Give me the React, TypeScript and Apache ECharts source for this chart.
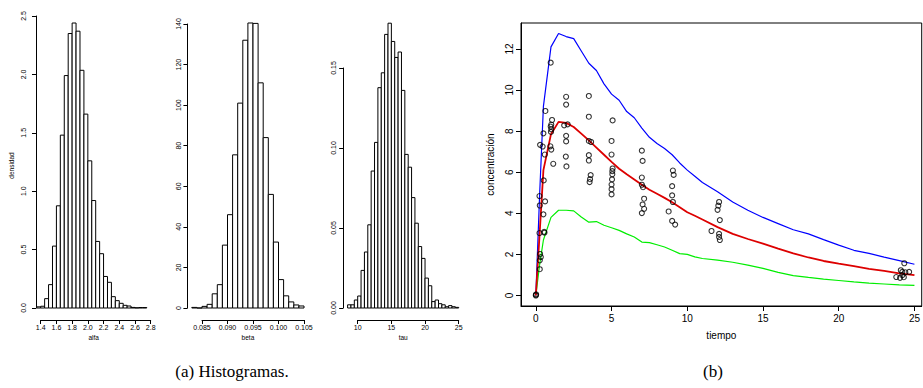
import React, { useEffect, useRef } from "react";
import * as echarts from "echarts";

// ---------- Histogram data (density per bin) ----------
const alfaStart = 1.35;
const alfaBinWidth = 0.05;
const alfaDensity = [0.01, 0.015, 0.08, 0.2, 0.53, 0.875, 1.48, 1.99, 2.35, 2.44, 2.37, 2.035, 1.66, 1.26, 0.92, 0.57, 0.465, 0.27, 0.22, 0.097, 0.063, 0.04, 0.023, 0.017, 0.005, 0.002, 0.004, 0.004];

const betaStart = 0.083;
const betaBinWidth = 0.001;
const betaDensity = [0.3, 0, 0.8, 1.8, 7, 11.5, 31, 46, 75.5, 101, 132, 140.5, 140.3, 111, 84, 56, 32.5, 14, 6, 3, 1.5, 1];

const tauStart = 8.5;
const tauBinWidth = 0.5;
const tauDensity = [0.002, 0.002, 0.005, 0.0075, 0.0235, 0.035, 0.052, 0.0856, 0.1035, 0.1377, 0.147, 0.171, 0.178, 0.1666, 0.1566, 0.16, 0.136, 0.096, 0.088, 0.069, 0.053, 0.0384, 0.031, 0.0187, 0.0139, 0.004, 0.005, 0.0027, 0.002, 0.0008, 0.0015, 0.0008, 0.0004];

// ---------- Concentration curves ----------
const bandTime = [0, 0.25, 0.5, 1, 1.5, 2, 2.5, 3, 3.5, 4, 4.5, 5, 5.5, 6, 6.5, 7, 7.5, 8, 8.5, 9, 9.5, 10, 10.5, 11, 12, 13, 14, 15, 16, 17, 18, 19, 20, 21, 22, 23, 24, 25];
const upperConc = [0, 4.9, 9.2, 12.1, 12.75, 12.6, 12.5, 11.9, 11.3, 10.95, 10.3, 9.8, 9.5, 8.95, 8.65, 8.15, 7.7, 7.4, 7.15, 6.85, 6.45, 6.1, 5.8, 5.5, 5.05, 4.55, 4.15, 3.8, 3.5, 3.2, 3.0, 2.72, 2.45, 2.2, 2.05, 1.87, 1.7, 1.52];
const medianConc = [0, 3.0, 6.1, 7.85, 8.45, 8.4, 8.2, 7.88, 7.55, 7.2, 6.85, 6.5, 6.17, 5.9, 5.65, 5.39, 5.15, 4.95, 4.75, 4.54, 4.3, 4.05, 3.88, 3.7, 3.33, 3.0, 2.75, 2.52, 2.28, 2.05, 1.85, 1.68, 1.55, 1.43, 1.3, 1.2, 1.08, 0.99];
const lowerConc = [0, 1.5, 2.7, 3.8, 4.15, 4.15, 4.12, 3.82, 3.57, 3.6, 3.42, 3.3, 3.17, 3.0, 2.85, 2.6, 2.57, 2.47, 2.36, 2.2, 2.04, 2.0, 1.88, 1.8, 1.72, 1.62, 1.48, 1.32, 1.13, 0.97, 0.88, 0.8, 0.73, 0.66, 0.6, 0.56, 0.52, 0.49];

// ---------- Observations ----------
const obsTime = [
  0, 0, 0.02,
  0.26, 0.26, 0.33, 0.28, 0.24, 0.26, 0.24, 0.28,
  0.57, 0.55, 0.5, 0.61, 0.52, 0.59, 0.45, 0.5, 0.63,
  0.98, 1.07, 1.02, 0.98, 1.02, 1.0, 0.96, 1.02, 1.15,
  2.0, 2.0, 1.87, 2.1, 2.0, 2.0, 1.98, 2.02,
  3.5, 3.5, 3.5, 3.65, 3.5, 3.5, 3.62, 3.58, 3.55,
  5.07, 5.0, 5.0, 5.07, 5.05, 5.05, 5.03, 5.0, 5.0, 5.0,
  7.0, 7.05, 7.0, 7.0, 7.08, 7.15, 7.05, 7.15, 7.0,
  9.05, 9.1, 9.0, 9.0, 9.05, 8.77, 9.0, 9.2,
  12.1, 12.05, 12.0, 12.15, 11.6, 12.1, 12.1, 12.15,
  24.33, 24.1, 24.2, 24.4, 24.65, 23.8, 24.05, 24.3, 24.2,
];
const obsConc = [
  0, 0.03, 0.06,
  1.28, 1.71, 1.87, 2.02, 3.04, 4.38, 4.84, 7.33,
  3.06, 3.1, 3.95, 4.58, 5.6, 6.86, 7.25, 7.89, 8.98,
  11.33, 8.54, 8.32, 8.22, 8.09, 7.96, 7.26, 7.1, 6.41,
  9.67, 9.29, 8.28, 8.33, 7.77, 7.5, 6.76, 6.28,
  9.71, 8.7, 7.52, 7.47, 6.83, 6.57, 5.86, 5.66, 5.52,
  8.52, 7.52, 6.86, 6.18, 6.05, 5.9, 5.65, 5.4, 5.17, 4.92,
  7.05, 6.55, 5.74, 5.39, 5.27, 4.71, 4.43, 4.22, 4.01,
  6.08, 5.87, 5.32, 4.87, 4.55, 4.09, 3.63, 3.45,
  4.55, 4.37, 4.17, 3.67, 3.14, 3.0, 2.85, 2.7,
  1.57, 1.23, 1.15, 1.13, 1.15, 0.9, 0.86, 0.89, 0.99,
];

const xTicksB = [0, 5, 10, 15, 20, 25];
const yTicksB = [0, 2, 4, 6, 8, 10, 12];

const FONT = "Liberation Sans, Arial, Helvetica, sans-serif";
const SERIF = "'Liberation Serif', 'DejaVu Serif', serif";

type HistSpec = {
  start: number;
  bw: number;
  dens: number[];
  xFirst: number;
  xLast: number;
  xInterval: number;
  xFirstPx: number;
  xLastPx: number;
  yTop: number;
  yInterval: number;
  yTopPx: number;
  y0Px: number;
  xMin: number;
  xMax: number;
  yMin: number;
  yMax: number;
  xDec: number;
  yDec: number;
  yLabelMargin: number;
  xName: string;
  yName: string;
};

const hists: HistSpec[] = [
  {
    start: alfaStart, bw: alfaBinWidth, dens: alfaDensity,
    xFirst: 1.4, xLast: 2.8, xInterval: 0.2, xFirstPx: 40.7, xLastPx: 150.7,
    yTop: 2.5, yInterval: 0.5, yTopPx: 16, y0Px: 308,
    xMin: 1.34, xMax: 2.81, yMin: -0.0976, yMax: 2.5376,
    xDec: 1, yDec: 1, yLabelMargin: 9, xName: "alfa", yName: "densidad",
  },
  {
    start: betaStart, bw: betaBinWidth, dens: betaDensity,
    xFirst: 0.085, xLast: 0.105, xInterval: 0.005, xFirstPx: 202, xLastPx: 304,
    yTop: 140, yInterval: 20, yTopPx: 24, y0Px: 308,
    xMin: 0.08214, xMax: 0.10588, yMin: -5.62, yMax: 146.1,
    xDec: 3, yDec: 0, yLabelMargin: 5, xName: "beta", yName: "",
  },
  {
    start: tauStart, bw: tauBinWidth, dens: tauDensity,
    xFirst: 10, xLast: 25, xInterval: 5, xFirstPx: 357.7, xLastPx: 458.7,
    yTop: 0.15, yInterval: 0.05, yTopPx: 68, y0Px: 308,
    xMin: 7.84, xMax: 25.66, yMin: -0.00712, yMax: 0.185,
    xDec: 0, yDec: 2, yLabelMargin: 6, xName: "tau", yName: "",
  },
];

function buildOption() {
  const grid: any[] = [];
  const xAxis: any[] = [];
  const yAxis: any[] = [];
  const series: any[] = [];

  const hidden = (extra: any) => ({
    type: "value",
    show: false,
    ...extra,
  });

  hists.forEach((h) => {
    const sx = (h.xLastPx - h.xFirstPx) / (h.xLast - h.xFirst);
    const sy = (h.y0Px - h.yTopPx) / h.yTop;
    // data grid
    const dLeft = h.xFirstPx + (h.xMin - h.xFirst) * sx;
    const dWidth = (h.xMax - h.xMin) * sx;
    const dTop = h.y0Px - h.yMax * sy;
    const dHeight = (h.yMax - h.yMin) * sy;
    const gData = grid.length;
    grid.push({ left: dLeft, top: dTop, width: dWidth, height: dHeight, containLabel: false });
    xAxis.push({
      type: "value", gridIndex: gData, min: h.xMin, max: h.xMax,
      axisLine: { show: false }, axisTick: { show: false }, axisLabel: { show: false }, splitLine: { show: false },
      name: h.xName, nameLocation: "middle", nameGap: 15,
      nameTextStyle: { fontSize: 6.5, color: "#000", fontFamily: FONT },
    });
    yAxis.push({
      type: "value", gridIndex: gData, min: h.yMin, max: h.yMax,
      axisLine: { show: false }, axisTick: { show: false }, axisLabel: { show: false }, splitLine: { show: false },
      name: h.yName, nameLocation: "middle", nameGap: 21, nameRotate: 90,
      nameTextStyle: { fontSize: 6.5, color: "#000", fontFamily: FONT },
    });
    const data = h.dens.map((d, i) => [h.start + i * h.bw, h.start + (i + 1) * h.bw, d]);
    series.push({
      type: "custom",
      xAxisIndex: xAxis.length - 1,
      yAxisIndex: yAxis.length - 1,
      coordinateSystem: "cartesian2d",
      data,
      encode: { x: [0, 1], y: 2 },
      renderItem: (params: any, api: any) => {
        const a = api.coord([api.value(0), api.value(2)]);
        const b = api.coord([api.value(1), 0]);
        return {
          type: "rect",
          shape: { x: a[0], y: a[1], width: b[0] - a[0], height: b[1] - a[1] },
          style: { fill: "#fff", stroke: "#000", lineWidth: 1 },
        };
      },
    });

    // y axis grid
    const gY = grid.length;
    grid.push({ left: dLeft, top: h.yTopPx, width: 10, height: h.y0Px - h.yTopPx });
    xAxis.push(hidden({ gridIndex: gY, min: 0, max: 1 }));
    yAxis.push({
      type: "value", gridIndex: gY, min: 0, max: h.yTop, interval: h.yInterval,
      axisLine: { show: true, lineStyle: { color: "#000", width: 1 } },
      axisTick: { show: true, length: 4, lineStyle: { color: "#000" } },
      splitLine: { show: false },
      axisLabel: {
        rotate: 90, fontSize: 7, color: "#000", fontFamily: FONT, margin: h.yLabelMargin,
        formatter: (v: number) => v.toFixed(h.yDec),
      },
    });

    // x axis grid
    const gX = grid.length;
    grid.push({ left: h.xFirstPx, top: 300, width: h.xLastPx - h.xFirstPx, height: 20 });
    yAxis.push(hidden({ gridIndex: gX, min: 0, max: 1 }));
    xAxis.push({
      type: "value", gridIndex: gX, min: h.xFirst, max: h.xLast, interval: h.xInterval,
      axisLine: { show: true, lineStyle: { color: "#000", width: 1 } },
      axisTick: { show: true, length: 4, lineStyle: { color: "#000" } },
      splitLine: { show: false },
      axisLabel: {
        fontSize: 7, color: "#000", fontFamily: FONT, margin: 4,
        formatter: (v: number) => v.toFixed(h.xDec),
        showMinLabel: true, showMaxLabel: true,
      },
    });
  });

  // Panel (b)
  const gB = grid.length;
  grid.push({ left: 521, top: 23, width: 405.5, height: 283, show: true, borderColor: "#000", borderWidth: 1, backgroundColor: "transparent" });
  const xB = xAxis.length;
  xAxis.push({
    type: "value", gridIndex: gB, min: -0.98, max: 25.48,
    axisLine: { show: true, onZero: false, lineStyle: { color: "#000", width: 1 } },
    axisTick: { show: true, length: 5, customValues: xTicksB, lineStyle: { color: "#000" } },
    axisLabel: { customValues: xTicksB, fontSize: 10, color: "#000", fontFamily: FONT, margin: 7 },
    splitLine: { show: false },
    name: "tiempo", nameLocation: "middle", nameGap: 24,
    nameTextStyle: { fontSize: 10, color: "#000", fontFamily: FONT },
  });
  const yB = yAxis.length;
  yAxis.push({
    type: "value", gridIndex: gB, min: -0.51, max: 13.26,
    axisLine: { show: true, onZero: false, lineStyle: { color: "#000", width: 1 } },
    axisTick: { show: true, length: 5, customValues: yTicksB, lineStyle: { color: "#000" } },
    axisLabel: { customValues: yTicksB, rotate: 90, fontSize: 10, color: "#000", fontFamily: FONT, margin: 7 },
    splitLine: { show: false },
    name: "concentración", nameLocation: "middle", nameGap: 26, nameRotate: 90,
    nameTextStyle: { fontSize: 10, color: "#000", fontFamily: FONT },
  });

  const curve = (vals: number[], color: string, width: number) => ({
    type: "line",
    xAxisIndex: xB,
    yAxisIndex: yB,
    data: bandTime.map((t, i) => [t, vals[i]]),
    showSymbol: false,
    symbol: "none",
    lineStyle: { color, width },
    silent: true,
  });
  series.push(curve(lowerConc, "#00ee00", 1.2));
  series.push(curve(upperConc, "#0000ff", 1.2));
  series.push(curve(medianConc, "#dd0000", 1.8));
  series.push({
    type: "scatter",
    xAxisIndex: xB,
    yAxisIndex: yB,
    data: obsTime.map((t, i) => [t, obsConc[i]]),
    symbol: "circle",
    symbolSize: 5,
    itemStyle: { color: "rgba(0,0,0,0)", borderColor: "#000", borderWidth: 1.1 },
    z: 5,
  });

  return {
    animation: false,
    backgroundColor: "#ffffff",
    textStyle: { fontFamily: FONT },
    grid,
    xAxis,
    yAxis,
    series,
    graphic: [
      {
        type: "text", x: 232, y: 371,
        style: {
          text: "(a) Histogramas.", fontFamily: SERIF, fontSize: 17, fill: "#000",
          align: "center", verticalAlign: "middle", textAlign: "center", textVerticalAlign: "middle",
        },
      },
      {
        type: "text", x: 713, y: 371,
        style: {
          text: "(b)", fontFamily: SERIF, fontSize: 17, fill: "#000",
          align: "center", verticalAlign: "middle", textAlign: "center", textVerticalAlign: "middle",
        },
      },
    ],
  };
}

export default function App() {
  const ref = useRef<HTMLDivElement>(null);
  useEffect(() => {
    if (!ref.current) return;
    const chart = echarts.init(ref.current, undefined, { renderer: "svg" });
    chart.setOption(buildOption() as any);
    return () => chart.dispose();
  }, []);
  return (
    <div
      ref={ref}
      style={{ position: "absolute", left: 0, top: 0, width: 923, height: 388, background: "#fff" }}
    />
  );
}
